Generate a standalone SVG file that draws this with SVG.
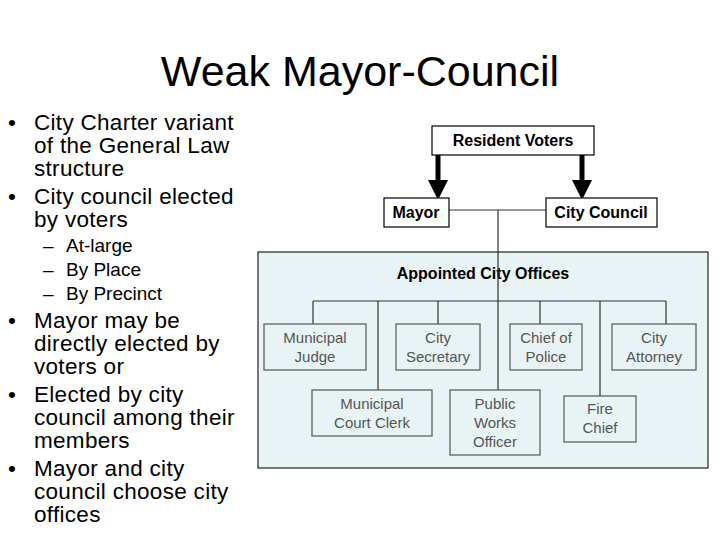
<svg xmlns="http://www.w3.org/2000/svg" width="720" height="540" viewBox="0 0 720 540">
<style>
text{font-family:"Liberation Sans",Arial,sans-serif}
.b{font-size:22.5px;letter-spacing:0.3px;fill:#000}
.s{font-size:19px;fill:#000}
.hb{fill:#fff;stroke:#000;stroke-width:1.2}
.hl{font-size:16px;font-weight:bold;text-anchor:middle}
.ob{fill:none;stroke:#555;stroke-width:1.2}
.ol{font-size:15px;fill:#555;text-anchor:middle}
.c{stroke:#333;stroke-width:1.2;fill:none}
</style>
<defs><marker id="ah" markerWidth="4" markerHeight="4" refX="2" refY="2" orient="auto" markerUnits="strokeWidth"><path d="M0,0 L4,2 L0,4 z" fill="#000"/></marker></defs>
<rect width="720" height="540" fill="#fff"/>
<text x="360" y="86" font-size="43" text-anchor="middle">Weak Mayor-Council</text>
<g id="bullets">
<text class="b" x="8" y="130">•</text><text class="b" x="34" y="130">City Charter variant</text>
<text class="b" x="34" y="153">of the General Law</text>
<text class="b" x="34" y="176">structure</text>
<text class="b" x="8" y="204">•</text><text class="b" x="34" y="204">City council elected</text>
<text class="b" x="34" y="227">by voters</text>
<text class="s" x="43" y="252">–</text><text class="s" x="66" y="252">At-large</text>
<text class="s" x="43" y="276">–</text><text class="s" x="66" y="276">By Place</text>
<text class="s" x="43" y="300">–</text><text class="s" x="66" y="300">By Precinct</text>
<text class="b" x="8" y="328">•</text><text class="b" x="34" y="328">Mayor may be</text>
<text class="b" x="34" y="351">directly elected by</text>
<text class="b" x="34" y="374">voters or</text>
<text class="b" x="8" y="402">•</text><text class="b" x="34" y="402">Elected by city</text>
<text class="b" x="34" y="425">council among their</text>
<text class="b" x="34" y="448">members</text>
<text class="b" x="8" y="476">•</text><text class="b" x="34" y="476">Mayor and city</text>
<text class="b" x="34" y="499">council choose city</text>
<text class="b" x="34" y="522">offices</text>
</g>
<g id="offices-area"><rect x="258" y="252" width="450" height="216" fill="#e8f3f6" stroke="#222" stroke-width="1.2"/>
<text x="483" y="279" font-size="16" font-weight="bold" text-anchor="middle">Appointed City Offices</text></g>
<g id="connectors">
<line x1="438" y1="155" x2="438" y2="190" stroke="#000" stroke-width="5" marker-end="url(#ah)"/>
<line x1="582" y1="155" x2="582" y2="190" stroke="#000" stroke-width="5" marker-end="url(#ah)"/>
<path class="c" d="M449,210 H546 M498,210 V390 M313,301 H666 M313,301 V324 M378,301 V390 M438,301 V324 M540,301 V324 M600,301 V396 M666,301 V324"/>
</g>
<g id="voters"><rect class="hb" x="432" y="126" width="162" height="29"/><text class="hl" x="513" y="146">Resident Voters</text></g>
<g id="mayor"><rect class="hb" x="384" y="198" width="65" height="29"/><text class="hl" x="416" y="218">Mayor</text></g>
<g id="council"><rect class="hb" x="546" y="198" width="111" height="29"/><text class="hl" x="601" y="218">City Council</text></g>
<g id="judge"><rect class="ob" x="264" y="324" width="102" height="46"/><text class="ol" x="315" y="343">Municipal</text><text class="ol" x="315" y="362">Judge</text></g>
<g id="secretary"><rect class="ob" x="396" y="324" width="84" height="46"/><text class="ol" x="438" y="343">City</text><text class="ol" x="438" y="362">Secretary</text></g>
<g id="police"><rect class="ob" x="510" y="324" width="72" height="46"/><text class="ol" x="546" y="343">Chief of</text><text class="ol" x="546" y="362">Police</text></g>
<g id="attorney"><rect class="ob" x="612" y="324" width="84" height="46"/><text class="ol" x="654" y="343">City</text><text class="ol" x="654" y="362">Attorney</text></g>
<g id="clerk"><rect class="ob" x="312" y="390" width="120" height="46"/><text class="ol" x="372" y="409">Municipal</text><text class="ol" x="372" y="428">Court Clerk</text></g>
<g id="publicworks"><rect class="ob" x="450" y="390" width="90" height="65"/><text class="ol" x="495" y="409">Public</text><text class="ol" x="495" y="428">Works</text><text class="ol" x="495" y="447">Officer</text></g>
<g id="fire"><rect class="ob" x="564" y="396" width="72" height="46"/><text class="ol" x="600" y="414">Fire</text><text class="ol" x="600" y="433">Chief</text></g>
</svg>
